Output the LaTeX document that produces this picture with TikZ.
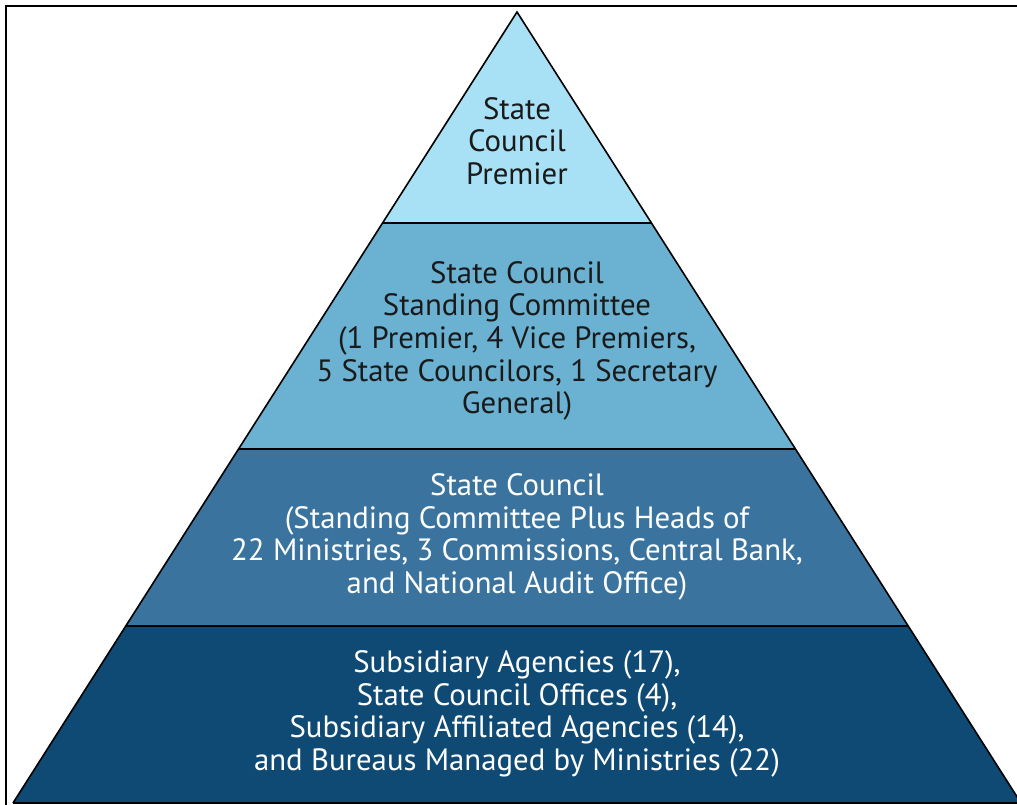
\documentclass[tikz,border=0pt]{standalone}
\usepackage{fontspec}
\setmainfont{PT Sans}
\usetikzlibrary{calc}
\definecolor{tierA}{HTML}{A8E1F5}
\definecolor{tierB}{HTML}{6BB1D1}
\definecolor{tierC}{HTML}{39739E}
\definecolor{tierD}{HTML}{0E4A74}
\definecolor{inkdark}{HTML}{1A1A1A}
\tikzset{
  tiertext/.style={align=center, inner sep=0pt, font=\fontsize{30.8}{32.6}\selectfont},
  outline/.style={draw=black, line width=1.6pt, line join=miter},
  divider/.style={draw=black, line width=2pt}
}
\begin{document}
\begin{tikzpicture}[x=1pt,y=-1pt]
\useasboundingbox (0,0) rectangle (1017,805);
\clip (0,0) rectangle (1017,805);
\fill[white] (0,0) rectangle (1017,805);
\draw[line width=2.2pt] (6,830) -- (6,6) -- (1040,6);
\coordinate (A) at (517,12);
\coordinate (L) at (13,803);
\coordinate (R) at (1021,803);
\coordinate (L1) at ($(A)!0.2668!(L)$);
\coordinate (R1) at ($(A)!0.2668!(R)$);
\coordinate (L2) at ($(A)!0.5525!(L)$);
\coordinate (R2) at ($(A)!0.5525!(R)$);
\coordinate (L3) at ($(A)!0.7762!(L)$);
\coordinate (R3) at ($(A)!0.7762!(R)$);
\fill[tierA] (A) -- (R1) -- (L1) -- cycle;
\fill[tierB] (L1) -- (R1) -- (R2) -- (L2) -- cycle;
\fill[tierC] (L2) -- (R2) -- (R3) -- (L3) -- cycle;
\fill[tierD] (L3) -- (R3) -- (R) -- (L) -- cycle;
\draw[divider] (L1) -- (R1);
\draw[divider] (L2) -- (R2);
\draw[divider] (L3) -- (R3);
\draw[outline] (L) -- (A) -- (R);
\draw[line width=1.6pt] (L) -- (R);
\node[tiertext, text=inkdark] (t1) at (517,141) {State\\Council\\Premier};
\node[tiertext, text=inkdark] (t2) at (517,341) {State Council\\Standing Committee\\(1 Premier, 4 Vice Premiers,\\5 State Councilors, 1 Secretary\\General)};
\node[tiertext, text=white] (t3) at (517,537) {State Council\\(Standing Committee Plus Heads of\\22 Ministries, 3 Commissions, Central Bank,\\and National Audit Office)};
\node[tiertext, text=white] (t4) at (517,714) {Subsidiary Agencies (17),\\State Council Offices (4),\\Subsidiary Affiliated Agencies (14),\\and Bureaus Managed by Ministries (22)};
\end{tikzpicture}
\end{document}
